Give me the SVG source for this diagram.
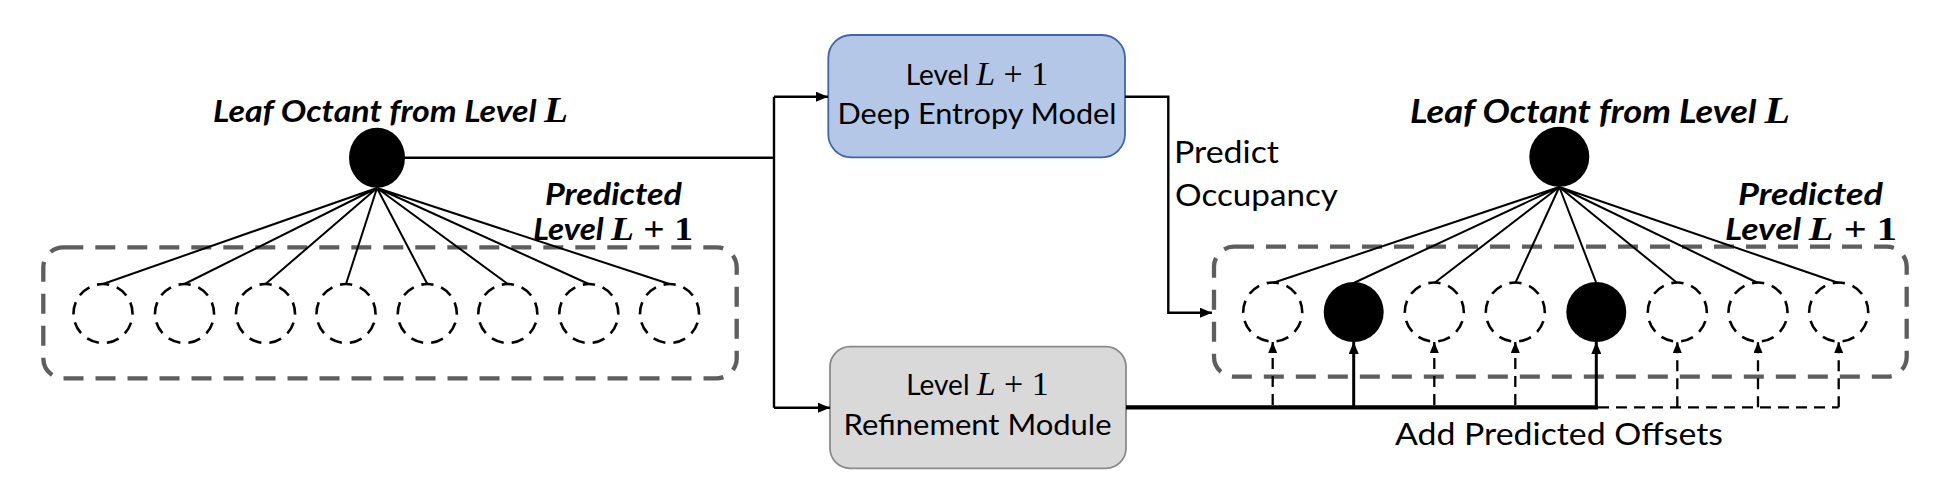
<svg xmlns="http://www.w3.org/2000/svg" width="1950" height="500" viewBox="0 0 1950 500">
<style>
.t{font-family:Lato,"Open Sans","Liberation Sans",sans-serif;fill:#000}
.b{font-weight:bold;font-style:italic}
.m{font-family:"Liberation Serif","DejaVu Serif",serif;font-style:italic}
.n{font-family:"Liberation Serif","DejaVu Serif",serif;font-style:normal}
.grp{fill:none;stroke:#5e5e5e;stroke-width:4.3;stroke-dasharray:20 12}
.dc{fill:none;stroke:#000;stroke-width:2.6;stroke-dasharray:12.5 8.09;stroke-dashoffset:6.25}
.fc{fill:#000}
.ln{fill:none;stroke:#000;stroke-width:2}
.cn{fill:none;stroke:#000;stroke-width:2.4}
.dl{fill:none;stroke:#000;stroke-width:2.3;stroke-dasharray:11 7}
</style>
<defs>
<marker id="ah" markerUnits="userSpaceOnUse" viewBox="0 0 12 10" refX="12" refY="5" markerWidth="12" markerHeight="10" orient="auto">
<path d="M0,0 L12,5 L0,10 Z" fill="#000"/>
</marker>
<marker id="ahs" markerUnits="userSpaceOnUse" viewBox="0 0 11 9" refX="11" refY="4.5" markerWidth="11" markerHeight="9" orient="auto">
<path d="M0,0 L11,4.5 L0,9 Z" fill="#000"/>
</marker>
</defs>

<g id="left-group">
<rect class="grp" x="43.3" y="247.3" width="693.4" height="131" rx="20"/>
<text class="t b" x="213" y="122" font-size="31" textLength="355" lengthAdjust="spacingAndGlyphs">Leaf Octant from Level <tspan class="m" font-weight="bold" font-size="36">L</tspan></text>
<text class="t b" x="545" y="205" font-size="30" textLength="137" lengthAdjust="spacingAndGlyphs">Predicted</text>
<text class="t b" x="533" y="240" font-size="30" textLength="160" lengthAdjust="spacingAndGlyphs">Level <tspan class="m" font-weight="bold" font-size="34">L</tspan><tspan class="n" font-weight="bold" font-size="34"> + 1</tspan></text>
<ellipse id="leafL" class="fc" cx="377" cy="157.7" rx="28" ry="30"/>
<g id="left-children">
<path class="ln" d="M377,188 L103,284 M377,188 L184.5,284 M377,188 L265.5,284 M377,188 L346,284 M377,188 L427.3,284 M377,188 L507.8,284 M377,188 L588.8,284 M377,188 L669.5,284"/>
<path class="dc" d="M103,284 A29.5,29.5 0 1 1 103,343 A29.5,29.5 0 1 1 103,284"/>
<path class="dc" d="M184.5,284 A29.5,29.5 0 1 1 184.5,343 A29.5,29.5 0 1 1 184.5,284"/>
<path class="dc" d="M265.5,284 A29.5,29.5 0 1 1 265.5,343 A29.5,29.5 0 1 1 265.5,284"/>
<path class="dc" d="M346,284 A29.5,29.5 0 1 1 346,343 A29.5,29.5 0 1 1 346,284"/>
<path class="dc" d="M427.3,284 A29.5,29.5 0 1 1 427.3,343 A29.5,29.5 0 1 1 427.3,284"/>
<path class="dc" d="M507.8,284 A29.5,29.5 0 1 1 507.8,343 A29.5,29.5 0 1 1 507.8,284"/>
<path class="dc" d="M588.8,284 A29.5,29.5 0 1 1 588.8,343 A29.5,29.5 0 1 1 588.8,284"/>
<path class="dc" d="M669.5,284 A29.5,29.5 0 1 1 669.5,343 A29.5,29.5 0 1 1 669.5,284"/>
</g>
</g>

<g id="entropy-model">
<rect x="828.3" y="35" width="296.7" height="122.3" rx="23" fill="#b4c7e7" stroke="#3f65a8" stroke-width="1.8"/>
<text class="t" x="977" y="85" font-size="28" text-anchor="middle">Level <tspan class="m" font-size="34">L</tspan><tspan class="n" font-size="34"> + 1</tspan></text>
<text class="t" x="977" y="124" font-size="28" text-anchor="middle" textLength="279" lengthAdjust="spacingAndGlyphs">Deep Entropy Model</text>
</g>

<g id="refinement-module">
<rect x="830" y="346.7" width="296" height="121.6" rx="20" fill="#d9d9d9" stroke="#8a8a8a" stroke-width="1.8"/>
<text class="t" x="977.5" y="395" font-size="28" text-anchor="middle">Level <tspan class="m" font-size="34">L</tspan><tspan class="n" font-size="34"> + 1</tspan></text>
<text class="t" x="977.5" y="435" font-size="28" text-anchor="middle" textLength="268" lengthAdjust="spacingAndGlyphs">Refinement Module</text>
</g>

<g id="right-group">
<rect class="grp" x="1214" y="246.7" width="692.7" height="130" rx="20"/>
<text class="t b" x="1410" y="123" font-size="33" textLength="380" lengthAdjust="spacingAndGlyphs">Leaf Octant from Level <tspan class="m" font-weight="bold" font-size="38">L</tspan></text>
<text class="t b" x="1738" y="205" font-size="30" textLength="145" lengthAdjust="spacingAndGlyphs">Predicted</text>
<text class="t b" x="1725" y="240" font-size="30" textLength="172" lengthAdjust="spacingAndGlyphs">Level <tspan class="m" font-weight="bold" font-size="34">L</tspan><tspan class="n" font-weight="bold" font-size="34"> + 1</tspan></text>
<circle id="leafR" class="fc" cx="1559.3" cy="156.7" r="30"/>
<g id="right-children">
<path class="ln" d="M1559.3,187 L1272.7,283 M1559.3,187 L1353.7,283 M1559.3,187 L1434.3,283 M1559.3,187 L1515.3,283 M1559.3,187 L1596.3,283 M1559.3,187 L1677.3,283 M1559.3,187 L1758,283 M1559.3,187 L1838.7,283"/>
<path class="dc" d="M1272.7,282.5 A29.5,29.5 0 1 1 1272.7,341.5 A29.5,29.5 0 1 1 1272.7,282.5"/>
<circle class="fc" cx="1353.7" cy="312" r="30"/>
<path class="dc" d="M1434.3,282.5 A29.5,29.5 0 1 1 1434.3,341.5 A29.5,29.5 0 1 1 1434.3,282.5"/>
<path class="dc" d="M1515.3,282.5 A29.5,29.5 0 1 1 1515.3,341.5 A29.5,29.5 0 1 1 1515.3,282.5"/>
<circle class="fc" cx="1596.3" cy="312" r="30"/>
<path class="dc" d="M1677.3,282.5 A29.5,29.5 0 1 1 1677.3,341.5 A29.5,29.5 0 1 1 1677.3,282.5"/>
<path class="dc" d="M1758,282.5 A29.5,29.5 0 1 1 1758,341.5 A29.5,29.5 0 1 1 1758,282.5"/>
<path class="dc" d="M1838.7,282.5 A29.5,29.5 0 1 1 1838.7,341.5 A29.5,29.5 0 1 1 1838.7,282.5"/>
</g>
</g>

<g id="connectors">
<path class="cn" d="M405,157.7 H774 M774,96.7 V407.7"/>
<path class="cn" d="M774,96.7 H828" marker-end="url(#ah)"/>
<path class="cn" d="M774,407.7 H830" marker-end="url(#ah)"/>
<path class="cn" d="M1125,96.7 H1168.3 V312.7 H1212" marker-end="url(#ah)"/>
<path fill="none" stroke="#000" stroke-width="4.2" d="M1126,407.3 H1598"/>
<path class="dl" d="M1598,407.3 H1838.7"/>
<path fill="none" stroke="#000" stroke-width="3" d="M1353.7,407.3 V342" marker-end="url(#ah)"/>
<path fill="none" stroke="#000" stroke-width="3" d="M1596.3,407.3 V342" marker-end="url(#ah)"/>
<path class="dl" d="M1272.7,405 V342" marker-end="url(#ahs)"/>
<path class="dl" d="M1434.3,405 V342" marker-end="url(#ahs)"/>
<path class="dl" d="M1515.3,405 V342" marker-end="url(#ahs)"/>
<path class="dl" d="M1677.3,407.3 V342" marker-end="url(#ahs)"/>
<path class="dl" d="M1758,407.3 V342" marker-end="url(#ahs)"/>
<path class="dl" d="M1838.7,407.3 V342" marker-end="url(#ahs)"/>
<text class="t" x="1174" y="163" font-size="30" textLength="105" lengthAdjust="spacingAndGlyphs">Predict</text>
<text class="t" x="1175" y="206" font-size="30" textLength="163" lengthAdjust="spacingAndGlyphs">Occupancy</text>
<text class="t" x="1395" y="445" font-size="31" textLength="328" lengthAdjust="spacingAndGlyphs">Add Predicted Offsets</text>
</g>
</svg>
